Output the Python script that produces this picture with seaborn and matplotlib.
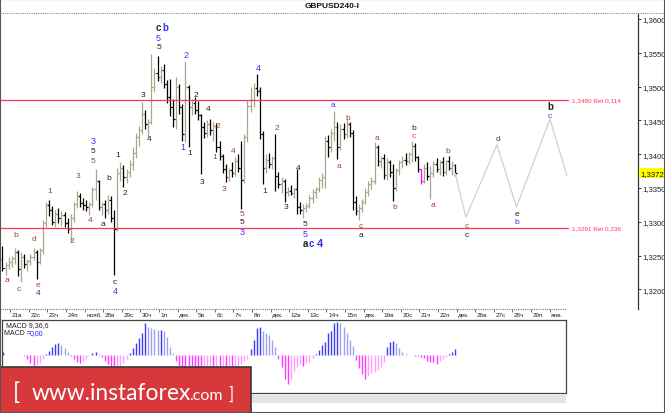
import numpy as np
import matplotlib
matplotlib.use('Agg')
import matplotlib.pyplot as plt
import matplotlib.transforms as mtransforms
from matplotlib.patches import Rectangle
from matplotlib.lines import Line2D
import seaborn as sns

# GBPUSD H4 bars, 21 Nov - 22 Dec
bar_open = [
    1.3245, 1.3232, 1.3236, 1.3240, 1.3246, 1.3255,
    1.3230, 1.3248, 1.3238, 1.3242, 1.3248, 1.3255,
    1.3240, 1.3258, 1.3298, 1.3325, 1.3318, 1.3300,
    1.3312, 1.3305, 1.3310, 1.3298, 1.3290, 1.3306,
    1.3326, 1.3338, 1.3328, 1.3325, 1.3322, 1.3326,
    1.3348, 1.3360, 1.3322, 1.3326, 1.3318, 1.3332,
    1.3306, 1.3290, 1.3372, 1.3380, 1.3366, 1.3374,
    1.3386, 1.3402, 1.3426, 1.3436, 1.3460, 1.3444,
    1.3448, 1.3500, 1.3520, 1.3514, 1.3524, 1.3504,
    1.3484, 1.3470, 1.3452, 1.3500, 1.3470, 1.3430,
    1.3500, 1.3470, 1.3476, 1.3466, 1.3458, 1.3440,
    1.3432, 1.3444, 1.3436, 1.3442, 1.3410, 1.3398,
    1.3378, 1.3366, 1.3376, 1.3372, 1.3390, 1.3380,
    1.3362, 1.3425, 1.3472, 1.3480, 1.3498, 1.3494,
    1.3430, 1.3380, 1.3392, 1.3386, 1.3394, 1.3368,
    1.3356, 1.3360, 1.3344, 1.3346, 1.3342, 1.3348,
    1.3322, 1.3318, 1.3320, 1.3324, 1.3336, 1.3344,
    1.3348, 1.3362, 1.3366, 1.3420, 1.3410, 1.3432,
    1.3440, 1.3410, 1.3438, 1.3430, 1.3444, 1.3432,
    1.3330, 1.3316, 1.3320, 1.3330, 1.3344, 1.3356,
    1.3360, 1.3410, 1.3390, 1.3394, 1.3370, 1.3388,
    1.3374, 1.3350, 1.3376, 1.3388, 1.3392, 1.3390,
    1.3400, 1.3412, 1.3396, 1.3378, 1.3360, 1.3380,
    1.3368, 1.3372, 1.3386, 1.3378, 1.3388, 1.3374,
    1.3390, 1.3380, 1.3384,
]
bar_high = [
    1.3265, 1.3240, 1.3248, 1.3250, 1.3262, 1.3258,
    1.3255, 1.3252, 1.3245, 1.3252, 1.3262, 1.3258,
    1.3262, 1.3302, 1.3330, 1.3332, 1.3324, 1.3318,
    1.3320, 1.3316, 1.3314, 1.3306, 1.3312, 1.3330,
    1.3346, 1.3342, 1.3336, 1.3332, 1.3330, 1.3352,
    1.3378, 1.3362, 1.3330, 1.3332, 1.3340, 1.3338,
    1.3318, 1.3380, 1.3388, 1.3384, 1.3378, 1.3392,
    1.3410, 1.3432, 1.3442, 1.3477, 1.3466, 1.3452,
    1.3548, 1.3528, 1.3545, 1.3530, 1.3534, 1.3510,
    1.3512, 1.3482, 1.3514, 1.3504, 1.3474, 1.3538,
    1.3502, 1.3482, 1.3484, 1.3478, 1.3460, 1.3448,
    1.3450, 1.3452, 1.3448, 1.3446, 1.3420, 1.3400,
    1.3386, 1.3380, 1.3388, 1.3396, 1.3400, 1.3420,
    1.3430, 1.3480, 1.3500, 1.3506, 1.3519, 1.3500,
    1.3434, 1.3400, 1.3402, 1.3398, 1.3430, 1.3374,
    1.3366, 1.3364, 1.3352, 1.3354, 1.3350, 1.3378,
    1.3330, 1.3326, 1.3328, 1.3340, 1.3348, 1.3352,
    1.3366, 1.3372, 1.3427, 1.3428, 1.3438, 1.3464,
    1.3448, 1.3444, 1.3446, 1.3452, 1.3448, 1.3436,
    1.3338, 1.3326, 1.3334, 1.3350, 1.3360, 1.3366,
    1.3418, 1.3414, 1.3398, 1.3400, 1.3394, 1.3392,
    1.3386, 1.3380, 1.3392, 1.3398, 1.3402, 1.3404,
    1.3420, 1.3416, 1.3398, 1.3378, 1.3386, 1.3388,
    1.3382, 1.3390, 1.3394, 1.3392, 1.3396, 1.3392,
    1.3398, 1.3390, 1.3386,
]
bar_low = [
    1.3228, 1.3222, 1.3230, 1.3233, 1.3238, 1.3220,
    1.3211, 1.3232, 1.3228, 1.3236, 1.3243, 1.3215,
    1.3238, 1.3252, 1.3292, 1.3308, 1.3296, 1.3293,
    1.3298, 1.3294, 1.3292, 1.3284, 1.3272, 1.3300,
    1.3320, 1.3322, 1.3318, 1.3316, 1.3310, 1.3322,
    1.3332, 1.3318, 1.3310, 1.3305, 1.3312, 1.3300,
    1.3222, 1.3286, 1.3360, 1.3352, 1.3358, 1.3366,
    1.3376, 1.3394, 1.3412, 1.3430, 1.3438, 1.3425,
    1.3445, 1.3492, 1.3508, 1.3506, 1.3498, 1.3476,
    1.3456, 1.3440, 1.3438, 1.3460, 1.3420, 1.3418,
    1.3410, 1.3458, 1.3460, 1.3450, 1.3371, 1.3424,
    1.3426, 1.3428, 1.3420, 1.3403, 1.3392, 1.3372,
    1.3359, 1.3360, 1.3366, 1.3368, 1.3374, 1.3319,
    1.3358, 1.3418, 1.3462, 1.3470, 1.3486, 1.3423,
    1.3356, 1.3372, 1.3380, 1.3378, 1.3346, 1.3350,
    1.3342, 1.3330, 1.3338, 1.3340, 1.3336, 1.3312,
    1.3312, 1.3305, 1.3314, 1.3320, 1.3328, 1.3336,
    1.3344, 1.3350, 1.3350, 1.3396, 1.3404, 1.3420,
    1.3393, 1.3406, 1.3422, 1.3424, 1.3426, 1.3318,
    1.3310, 1.3303, 1.3314, 1.3326, 1.3338, 1.3348,
    1.3356, 1.3382, 1.3380, 1.3364, 1.3362, 1.3366,
    1.3331, 1.3346, 1.3370, 1.3380, 1.3384, 1.3386,
    1.3388, 1.3390, 1.3374, 1.3356, 1.3358, 1.3362,
    1.3334, 1.3366, 1.3374, 1.3370, 1.3368, 1.3370,
    1.3376, 1.3370, 1.3368,
]
bar_close = [
    1.3232, 1.3236, 1.3240, 1.3246, 1.3255, 1.3230,
    1.3248, 1.3238, 1.3242, 1.3248, 1.3255, 1.3240,
    1.3258, 1.3298, 1.3325, 1.3318, 1.3300, 1.3312,
    1.3305, 1.3310, 1.3298, 1.3290, 1.3306, 1.3326,
    1.3338, 1.3328, 1.3325, 1.3322, 1.3326, 1.3348,
    1.3360, 1.3322, 1.3326, 1.3318, 1.3332, 1.3306,
    1.3290, 1.3372, 1.3380, 1.3366, 1.3374, 1.3386,
    1.3402, 1.3426, 1.3436, 1.3460, 1.3444, 1.3448,
    1.3500, 1.3520, 1.3514, 1.3524, 1.3504, 1.3484,
    1.3470, 1.3452, 1.3500, 1.3470, 1.3430, 1.3500,
    1.3470, 1.3476, 1.3466, 1.3458, 1.3440, 1.3432,
    1.3444, 1.3436, 1.3442, 1.3410, 1.3398, 1.3378,
    1.3366, 1.3376, 1.3372, 1.3390, 1.3380, 1.3362,
    1.3425, 1.3472, 1.3480, 1.3498, 1.3494, 1.3430,
    1.3380, 1.3392, 1.3386, 1.3394, 1.3368, 1.3356,
    1.3360, 1.3344, 1.3346, 1.3342, 1.3348, 1.3322,
    1.3318, 1.3320, 1.3324, 1.3336, 1.3344, 1.3348,
    1.3362, 1.3366, 1.3420, 1.3410, 1.3432, 1.3440,
    1.3410, 1.3438, 1.3430, 1.3444, 1.3432, 1.3330,
    1.3316, 1.3320, 1.3330, 1.3344, 1.3356, 1.3360,
    1.3410, 1.3390, 1.3394, 1.3370, 1.3388, 1.3374,
    1.3350, 1.3376, 1.3388, 1.3392, 1.3390, 1.3400,
    1.3412, 1.3396, 1.3378, 1.3360, 1.3380, 1.3368,
    1.3372, 1.3386, 1.3378, 1.3388, 1.3374, 1.3390,
    1.3380, 1.3384, 1.3372,
]
# MACD(9,36,6) histogram, in pips
macd_hist = [
    3, 0.5, 0.5, 0.5, 0.3, 0.2,
    -0.3, -1, -4, -8, -11, -10,
    -8, -4, 1, 4, 8, 11,
    12, 10, 7, 3, -1, -4,
    -7, -8, -6, -4, -1, 2,
    3, 1, -2, -6, -9, -12,
    -15, -14, -11, -8, -4, 2,
    7, 12, 17, 22, 32, 28,
    27, 26, 25, 25, 24, 18,
    8, 2, -6, -11, -14, -15,
    -17, -17, -18, -18, -19, -18,
    -17, -16, -16, -15, -15, -14,
    -14, -13, -13, -12, -11, -9,
    -6, -4, 6, 15, 27, 28,
    24, 22, 20, 15, 8, -4,
    -12, -24, -29, -25, -16, -12,
    -9, -11, -8, -7, -3, 1,
    5, 10, 13, 22, 24, 32,
    33, 32, 28, 22, 15, 9,
    -5, -13, -19, -24, -21, -18,
    -17, -15, -12, -7, 8, 13,
    14, 12, 7, 3, 1, 0.5,
    0, -0.5, -1, -2, -3, -6,
    -7, -7, -9, -6, -4, -2,
    1, 3, 6,
]
day_labels = ['21в', '22с', '23ч', '24п', 'нояб.', '28в', '29с', '30ч', '1п', 'дек.',
              '5в', '6с', '7ч', '8п', 'дек.', '12в', '13с', '14ч', '15п', 'дек.',
              '19в', '20с', '21ч', '22п', 'дек.', '26в', '27с', '28ч', '29п', 'янв.']
price_ticks = [1.3200, 1.3250, 1.3300, 1.3350, 1.3400, 1.3450, 1.3500, 1.3550, 1.3600]
ret_levels = [1.3480, 1.3291]
ret_labels = ['1,3480 Ret 0,114', '1,3291 Ret 0,236']
last_price = 1.3372
# forecast path (bar number, price)
proj_bar = [146, 149.5, 159.5, 165.8, 176.6, 182.1]
proj_price = [1.3372, 1.3307, 1.3414, 1.3322, 1.3452, 1.3368]

# wave marks: bar, price, text, colour, size, bold
BR, K, BL, RD = '#a3402c', '#222222', '#3535f5', '#f03a3a'
wave_marks = [
    (1.5, 1.3215, 'a', BR, 6, False), (4.4, 1.3281, 'b', BR, 6, False),
    (5.3, 1.3202, 'c', BR, 6, False), (10.2, 1.3276, 'd', BR, 6, False),
    (11.5, 1.3207, 'e', BR, 6, False), (11.5, 1.3195, '4', '#303090', 6, False),
    (15.3, 1.3346, '1', BR, 6, False), (22.4, 1.3272, '2', BR, 6, False),
    (24.4, 1.3368, '3', BR, 6, False), (28.2, 1.3303, '4', BR, 6, False),
    (29.2, 1.3420, '3', BL, 6.5, False), (29.2, 1.3405, '5', K, 6, False),
    (29.2, 1.3390, '5', BR, 6, False), (32.4, 1.3297, 'a', K, 6, False),
    (34.4, 1.3366, 'b', K, 6, False), (36.3, 1.3212, 'c', K, 6, False),
    (36.3, 1.3198, '4', BL, 6.5, False), (37.3, 1.3399, '1', K, 6, False),
    (39.5, 1.3344, '2', K, 6, False), (45.3, 1.3489, '3', K, 6, False),
    (47.3, 1.3423, '4', K, 6, False), (50.4, 1.3588, 'c', K, 7, True),
    (52.4, 1.3588, 'b', BL, 7, True), (50.2, 1.3573, '5', BL, 6.5, False),
    (50.5, 1.3560, '5', K, 6, False), (59.2, 1.3547, '2', BL, 6.5, False),
    (58.2, 1.3411, '1', BL, 6.5, False), (60.5, 1.3403, '1', K, 6, False),
    (62.4, 1.3488, '2', K, 6, False), (66.3, 1.3468, '4', K, 6, False),
    (64.4, 1.3360, '3', K, 6, False), (69.5, 1.3443, '2', BR, 6, False),
    (68.5, 1.3396, '1', BR, 6, False), (71.5, 1.3350, '3', BR, 6, False),
    (74.4, 1.3405, '4', BR, 6, False), (77.3, 1.3312, '5', BR, 6, False),
    (77.3, 1.3301, '5', K, 6, False), (77.3, 1.3285, '3', BL, 6.5, False),
    (82.4, 1.3529, '4', BL, 6.5, False), (84.7, 1.3346, '1', K, 6, False),
    (88.5, 1.3440, '2', BR, 6, False), (91.5, 1.3323, '3', K, 6, False),
    (95.3, 1.3381, '4', K, 6, False), (97.6, 1.3298, '5', K, 6, False),
    (97.6, 1.3283, '5', BL, 6.5, False), (97.6, 1.3269, 'a', K, 7, True),
    (99.5, 1.3269, 'c', BL, 7, True), (102.4, 1.3269, '4', BL, 8, True),
    (106.6, 1.3474, 'a', BL, 6, False), (108.5, 1.3383, 'a', BR, 6, False),
    (111.5, 1.3455, 'b', BR, 6, False), (115.6, 1.3295, 'c', BR, 6, False),
    (115.6, 1.3282, 'a', K, 6, False), (120.8, 1.3425, 'a', BR, 6, False),
    (126.6, 1.3322, 'b', BR, 6, False), (132.7, 1.3440, 'b', K, 6, False),
    (132.7, 1.3427, 'c', RD, 6, False), (138.9, 1.3325, 'a', BR, 6, False),
    (143.7, 1.3405, 'b', BR, 6, False), (149.8, 1.3295, 'c', BR, 6, False),
    (149.8, 1.3282, 'c', K, 6, False), (159.8, 1.3423, 'd', '#444444', 6, False),
    (166.0, 1.3313, 'e', K, 6, False), (166.0, 1.3301, 'b', BL, 6, False),
    (176.6, 1.3471, 'b', K, 7, True), (176.6, 1.3458, 'c', BL, 6, False),
]

sns.set_theme(style='white')
plt.rcParams['font.family'] = ['Liberation Sans', 'DejaVu Sans']

W, H = 665, 414
fig = plt.figure(figsize=(W / 100, H / 100), dpi=100)
fig.patch.set_facecolor('white')


def box(x0, y0, x1, y1):
    return [x0 / W, 1 - y1 / H, (x1 - x0) / W, (y1 - y0) / H]


# pixel x = 2.5 + 3.1 * bar
def bx(px):
    return (px - 2.5) / 3.1


# ---- price panel ----
ax = fig.add_axes(box(0, 15, 638, 310))
ax.set_facecolor('white')
ax.set_xlim(bx(0), bx(638))
ax.set_ylim(1.31711, 1.36074)

idx = np.arange(len(bar_close))
o = np.array(bar_open)
c = np.array(bar_close)
cols = np.where(c >= o, '#aaa58f', '#000000').astype(object)
cols[135] = '#ff00ff'
ax.vlines(idx, bar_low, bar_high, colors=cols, lw=0.9)
ax.hlines(o, idx - 0.5, idx, colors=cols, lw=0.9)
ax.hlines(c, idx, idx + 0.5, colors=cols, lw=0.9)

for lv, lab in zip(ret_levels, ret_labels):
    ax.axhline(lv, xmin=0, xmax=568 / 638, color='#ff3355', lw=0.9)
    ax.text(bx(572), lv, lab, fontsize=4.6, color='#ff3355', va='center', ha='left')

sns.lineplot(x=proj_bar, y=proj_price, ax=ax, color='#d6cdd1', lw=0.9)

for xb, yp, t, col, fs, bold in wave_marks:
    ax.text(xb, yp, t, color=col, fontsize=fs, ha='center', va='center',
            weight='bold' if bold else 'normal')

ax.yaxis.tick_right()
ax.set_yticks(price_ticks)
ax.set_yticklabels([f'{v:.4f}'.replace('.', ',') for v in price_ticks])
ax.tick_params(axis='y', labelsize=5.6, length=2, width=0.6, pad=1.2,
               colors='#222222', direction='out')
for s in ['top', 'left', 'bottom']:
    ax.spines[s].set_visible(False)
ax.spines['right'].set_color('#333333')
ax.spines['right'].set_linewidth(0.9)

trans_y = mtransforms.blended_transform_factory(ax.transAxes, ax.transData)
ax.text(1.003, last_price, '1,3372', transform=trans_y, fontsize=5.6, va='center',
        ha='left', color='#111111',
        bbox=dict(boxstyle='square,pad=0.18', fc='#ffff00', ec='none'))

# date scale
day_pos = [6 * k + 2.5 for k in range(len(day_labels))]
ax.set_xticks(day_pos)
ax.set_xticklabels([])
ax.tick_params(axis='x', bottom=True, length=2.5, width=0.6, color='#555555',
               direction='out')
ax.axhline(1.31711, xmin=0, xmax=566 / 638, color='#777777', lw=0.8,
           ls=(0, (1, 1)), clip_on=False)
for p, lab in zip(day_pos, day_labels):
    ax.annotate(lab, xy=(p, 0), xycoords=('data', 'axes fraction'),
                xytext=(1.2, -2.2), textcoords='offset points',
                fontsize=4.6, ha='left', va='top', color='#222222')

# ---- MACD panel ----
mx = fig.add_axes(box(2, 321, 566, 394))
mx.set_facecolor('white')
mx.set_xlim(bx(2), bx(566))
mx.set_ylim(-38, 35)
mh = np.array(macd_hist)
prev = np.concatenate([[0], mh[:-1]])
mcols = np.where(mh >= 0,
                 np.where(mh >= prev, '#3c3cf0', '#a0a0f0'),
                 np.where(mh <= prev, '#ff3cff', '#ffa0ff'))
mx.vlines(idx, 0, mh, colors=mcols, lw=1.0)
mx.set_xticks([])
mx.set_yticks([])
for s in mx.spines.values():
    s.set_color('#444444')
    s.set_linewidth(0.9)

fig.text(6 / W, 1 - 325.5 / H, 'MACD 9,36,6', fontsize=5, va='center', color='#222222')
fig.text(4 / W, 1 - 333.5 / H, 'MACD =', fontsize=5, va='center', color='#222222')
fig.text(30 / W, 1 - 333.5 / H, '0,00', fontsize=5, va='center', color='#2020ff')

# strip under MACD
fig.add_artist(Rectangle((0, 1 - 404 / H), 566 / W, 8 / H, transform=fig.transFigure,
                         fc='#e4e4e4', ec='none'))

# ---- header ----
fig.text(332 / W, 1 - 7 / H, 'GBPUSD240-I', ha='center', va='center', fontsize=6,
         weight='bold', color='#111111')
fig.add_artist(Line2D([0, 1], [1 - 14 / H, 1 - 14 / H], transform=fig.transFigure,
                      color='#888888', lw=0.8, ls=(0, (1, 1))))

# ---- banner ----
fig.add_artist(Rectangle((0, 0), 251 / W, 46 / H, transform=fig.transFigure,
                         fc='#d7383c', ec='#3a3a3a', lw=1.2))
bfont = ['Lato', 'DejaVu Sans']
fig.text(13 / W, 1 - 400 / H, '[', fontsize=17, color='white', va='baseline', family=bfont)
fig.text(32 / W, 1 - 400 / H, 'www.instaforex', fontsize=16.4, color='white',
         va='baseline', family=bfont)
fig.text(189 / W, 1 - 400 / H, '.com', fontsize=11.5, color='white', va='baseline',
         family=bfont)
fig.text(228 / W, 1 - 400 / H, ']', fontsize=12, color='white', va='baseline', family=bfont)

# outer frame
fig.add_artist(Rectangle((0, 0), 1, 1, transform=fig.transFigure, fill=False,
                         ec='#555555', lw=1.5))

fig.savefig('out.png', dpi=100)
